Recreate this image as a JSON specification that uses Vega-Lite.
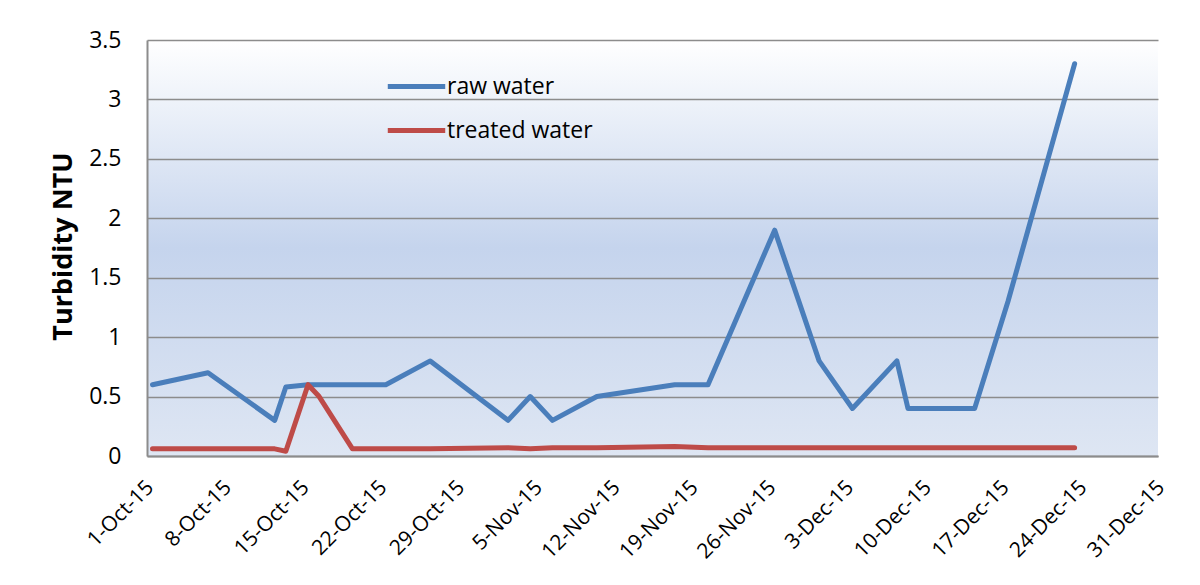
{
  "$schema": "https://vega.github.io/schema/vega-lite/v6.json",
  "width": 1011,
  "height": 416,
  "autosize": "none",
  "padding": {"left": 147, "top": 40, "right": 42, "bottom": 129},
  "background": "white",
  "config": {
    "font": "Open Sans",
    "view": {
      "stroke": null,
      "fill": {
        "gradient": "linear",
        "x1": 0, "y1": 0, "x2": 0, "y2": 1,
        "stops": [
          {"offset": 0, "color": "#ffffff"},
          {"offset": 0.5, "color": "#c5d4ed"},
          {"offset": 1, "color": "#dee6f3"}
        ]
      }
    }
  },
  "data": {
    "values": [
      {"date": "2015-10-01", "series": "raw water", "value": 0.6},
      {"date": "2015-10-06", "series": "raw water", "value": 0.7},
      {"date": "2015-10-12", "series": "raw water", "value": 0.3},
      {"date": "2015-10-13", "series": "raw water", "value": 0.58},
      {"date": "2015-10-15", "series": "raw water", "value": 0.6},
      {"date": "2015-10-16", "series": "raw water", "value": 0.6},
      {"date": "2015-10-19", "series": "raw water", "value": 0.6},
      {"date": "2015-10-22", "series": "raw water", "value": 0.6},
      {"date": "2015-10-26", "series": "raw water", "value": 0.8},
      {"date": "2015-11-02", "series": "raw water", "value": 0.3},
      {"date": "2015-11-04", "series": "raw water", "value": 0.5},
      {"date": "2015-11-06", "series": "raw water", "value": 0.3},
      {"date": "2015-11-10", "series": "raw water", "value": 0.5},
      {"date": "2015-11-17", "series": "raw water", "value": 0.6},
      {"date": "2015-11-20", "series": "raw water", "value": 0.6},
      {"date": "2015-11-26", "series": "raw water", "value": 1.9},
      {"date": "2015-11-30", "series": "raw water", "value": 0.8},
      {"date": "2015-12-03", "series": "raw water", "value": 0.4},
      {"date": "2015-12-07", "series": "raw water", "value": 0.8},
      {"date": "2015-12-08", "series": "raw water", "value": 0.4},
      {"date": "2015-12-14", "series": "raw water", "value": 0.4},
      {"date": "2015-12-17", "series": "raw water", "value": 1.3},
      {"date": "2015-12-23", "series": "raw water", "value": 3.3},
      {"date": "2015-10-01", "series": "treated water", "value": 0.06},
      {"date": "2015-10-06", "series": "treated water", "value": 0.06},
      {"date": "2015-10-12", "series": "treated water", "value": 0.06},
      {"date": "2015-10-13", "series": "treated water", "value": 0.04},
      {"date": "2015-10-15", "series": "treated water", "value": 0.6},
      {"date": "2015-10-16", "series": "treated water", "value": 0.5},
      {"date": "2015-10-19", "series": "treated water", "value": 0.06},
      {"date": "2015-10-22", "series": "treated water", "value": 0.06},
      {"date": "2015-10-26", "series": "treated water", "value": 0.06},
      {"date": "2015-11-02", "series": "treated water", "value": 0.07},
      {"date": "2015-11-04", "series": "treated water", "value": 0.06},
      {"date": "2015-11-06", "series": "treated water", "value": 0.07},
      {"date": "2015-11-10", "series": "treated water", "value": 0.07},
      {"date": "2015-11-17", "series": "treated water", "value": 0.08},
      {"date": "2015-11-20", "series": "treated water", "value": 0.07},
      {"date": "2015-11-26", "series": "treated water", "value": 0.07},
      {"date": "2015-11-30", "series": "treated water", "value": 0.07},
      {"date": "2015-12-03", "series": "treated water", "value": 0.07},
      {"date": "2015-12-07", "series": "treated water", "value": 0.07},
      {"date": "2015-12-08", "series": "treated water", "value": 0.07},
      {"date": "2015-12-14", "series": "treated water", "value": 0.07},
      {"date": "2015-12-17", "series": "treated water", "value": 0.07},
      {"date": "2015-12-23", "series": "treated water", "value": 0.07}
    ],
    "format": {"parse": {"date": "date:'%Y-%m-%d'"}}
  },
  "mark": {"type": "line", "strokeWidth": 5, "strokeCap": "round", "strokeJoin": "round", "xOffset": 5.5},
  "encoding": {
    "x": {
      "field": "date",
      "type": "temporal",
      "scale": {
        "domain": [{"year": 2015, "month": 10, "date": 1}, {"year": 2015, "month": 12, "date": 31}],
        "nice": false
      },
      "axis": {
        "title": null,
        "format": "%-d-%b-%y",
        "values": [
          {"year": 2015, "month": 10, "date": 1},
          {"year": 2015, "month": 10, "date": 8},
          {"year": 2015, "month": 10, "date": 15},
          {"year": 2015, "month": 10, "date": 22},
          {"year": 2015, "month": 10, "date": 29},
          {"year": 2015, "month": 11, "date": 5},
          {"year": 2015, "month": 11, "date": 12},
          {"year": 2015, "month": 11, "date": 19},
          {"year": 2015, "month": 11, "date": 26},
          {"year": 2015, "month": 12, "date": 3},
          {"year": 2015, "month": 12, "date": 10},
          {"year": 2015, "month": 12, "date": 17},
          {"year": 2015, "month": 12, "date": 24},
          {"year": 2015, "month": 12, "date": 31}
        ],
        "labelAngle": -45,
        "labelAlign": "right",
        "labelBaseline": "middle",
        "labelFontSize": 21,
        "labelColor": "#000000",
        "labelPadding": 28,
        "labelOffset": 3,
        "labelOverlap": false,
        "labelFlush": false,
        "ticks": false,
        "tickSize": 0,
        "grid": false,
        "domainColor": "#8c8c8c",
        "domainWidth": 2
      }
    },
    "y": {
      "field": "value",
      "type": "quantitative",
      "scale": {"domain": [0, 3.5], "nice": false},
      "axis": {
        "title": "Turbidity NTU",
        "titleFont": "Open Sans",
        "titleFontSize": 27,
        "titleFontWeight": "bold",
        "titleColor": "#000000",
        "titleX": -84,
        "titleY": 206,
        "titleAngle": -90,
        "titleAlign": "center",
        "titleBaseline": "middle",
        "values": [0, 0.5, 1, 1.5, 2, 2.5, 3, 3.5],
        "labelExpr": "datum.value",
        "labelFontSize": 23,
        "labelColor": "#000000",
        "labelPadding": 26,
        "labelFlush": false,
        "labelOverlap": false,
        "ticks": false,
        "tickSize": 0,
        "grid": true,
        "gridColor": "#8c8c8c",
        "gridWidth": 1.5,
        "domainColor": "#8c8c8c",
        "domainWidth": 2
      }
    },
    "color": {
      "field": "series",
      "type": "nominal",
      "scale": {"domain": ["raw water", "treated water"], "range": ["#4a7ebb", "#be4b48"]},
      "legend": {
        "title": null,
        "orient": "none",
        "legendX": 238,
        "legendY": 15,
        "symbolType": "stroke",
        "symbolSize": 3300,
        "symbolStrokeWidth": 5,
        "rowPadding": -5,
        "labelFontSize": 23,
        "labelColor": "#000000",
        "labelOffset": -1,
        "padding": 0
      }
    }
  }
}
